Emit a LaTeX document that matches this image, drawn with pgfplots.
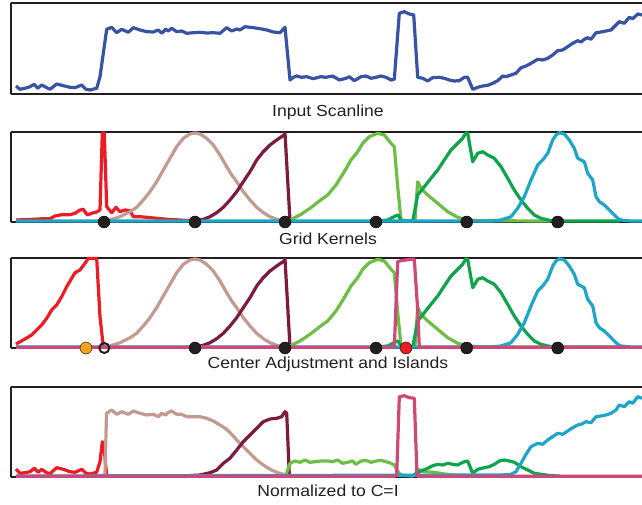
\documentclass[border=0pt]{standalone}
\usepackage{pgfplots}
\pgfplotsset{compat=1.18}
\usepackage{pgfplotstable}
\usepackage{fontspec}
\setmainfont{Liberation Sans}

\definecolor{scan}{HTML}{3953A4}
\definecolor{kred}{HTML}{ED1C24}
\definecolor{ktan}{HTML}{C49A90}
\definecolor{kmaroon}{HTML}{7D1A3F}
\definecolor{klgreen}{HTML}{6CBE45}
\definecolor{kdgreen}{HTML}{0FA34B}
\definecolor{kcyan}{HTML}{1EA6C8}
\definecolor{kpink}{HTML}{D0487A}
\definecolor{korange}{HTML}{F7A21B}
\definecolor{ink}{HTML}{231F20}

% x = pixel column, y = height above the panel floor
\pgfplotstableread{
x y
104 1
110 2
120 5.3
130 10.3
136.7 14.7
143.3 22
150 30.3
156.7 40.3
163.3 52
170 63.7
176.7 75.3
183.3 83.7
190 88
195 89
200 88
206.7 83.7
213.3 77
220 67
226.7 55.3
231.7 47
236.7 40.3
243.3 30.3
250 22
256.7 14.7
263.3 9.3
270 5.3
276.7 2.7
283.3 1.3
290 1
}\tantab

\pgfplotstableread{
x y
195 1
203.3 2.7
210 5.3
216.7 9.3
223.3 14.7
230 22
236.7 30.3
243.3 40.3
250 50.3
256.7 62
263.3 70.3
270 77
276.7 82
284 87
285 89
290 1
}\maroontab

\pgfplotstableread{
x y
285 1
290 2
300 7
310 13.7
320.7 22
327.7 27
336 37
344.3 50.3
351 62
357.7 70.3
362.7 78.7
369.3 85.3
377.7 88.7
384.3 87
391 78.7
394.3 75.3
397.7 35.3
401 2
412 1
415 2
417.7 40.3
421 33.7
427.7 27
437.7 18.7
447.7 10.3
457.7 4.7
467.7 2
480 1.3
550 1
}\lgreentab

\pgfplotstableread{
x y
376 1
387.7 2
396 6.3
398 7
400 3.7
401 1
412.7 1
417.7 27
424.3 35.3
431 43.7
437.7 52
444.3 62
451 72
457.7 78.7
462.7 83.7
466 89.3
467.7 88.7
472.7 60.3
477.7 68.7
482.7 70.3
487.7 67
494.3 63.7
501 55.3
507.7 43.7
514.3 32
521 22
527.7 13.7
534.3 7
541 3.7
551 1.3
557.7 1
620 1
}\dgreentab

\pgfplotstableread{
x y
16 1
491 1
501 2
511 5.3
517.7 13.7
524.3 25.3
531 42
537.7 57
542.7 62
547.7 68.7
552.7 82
556 87
559.3 89.3
564.3 88
569.3 82
574.3 73.7
577.7 63.7
581 62
584.3 60.3
587.7 48.7
592.7 42
596 25.3
599.3 20.3
604.3 17
611 10.3
617.7 3.7
621 2
631 1
642 1
}\cyantab

\pgfplotsset{
  panel/.style={
    width=631pt, height=90pt, scale only axis,
    xmin=11, xmax=642, ymin=0, ymax=90,
    xtick=\empty, ytick=\empty,
    axis x line*=box, axis y line*=left,
    axis line style={-, line width=1.3pt, draw=ink},
    clip=false,
  },
  ln/.style={line width=3.2pt, line join=round},
  dot/.style={only marks, mark=*, mark size=6pt, mark options={draw=none, fill=#1}},
}
\tikzset{captext/.style={anchor=base, text=ink, inner sep=0pt, font=\fontsize{16}{19}\selectfont, xscale=1.1, transform shape}}

\begin{document}
\begin{tikzpicture}
\useasboundingbox (0,0) rectangle (642pt,504pt);

% ---- Input Scanline
\begin{axis}[panel, ymax=91, height=91pt, at={(11pt,410pt)}, anchor=south west]
\addplot[ln, scan] coordinates {
(16,8) (20,4.7) (25,5.7) (30,7.3) (34.3,9.7) (37.7,5.7) (41.7,9) (46,6.7) (50,4.7)
(56.7,10) (63.3,8.3) (70,6.7) (75,6.3) (81.7,9) (86,4.7) (90,4) (96.7,5.7) (100,17.3)
(106.7,64.7) (111.7,66.7) (116.7,61.3) (121.7,64.7) (128.3,61.7) (133.3,66.3) (140,64)
(146.7,62.3) (153.3,62) (158.3,64) (161.7,60.7) (165.7,64.7) (168.3,63) (171.7,65.7)
(176.7,62.3) (181.7,63) (186.7,60.7) (193.3,61.3) (200,61.7) (206.7,61) (213.3,61.3)
(220,60.7) (226.7,66.3) (231.7,63) (236.7,65) (240,64) (245,67.3) (253.3,66.3) (260,65.3)
(266.7,64) (273.3,62) (280,61.3) (285,66.7) (290,14) (293.3,16.7) (296.7,18) (301.7,16.7)
(306.7,17.3) (313.3,15.3) (320.7,17.3) (326,16.7) (332.7,18) (339.3,14) (346,15.7)
(349.3,17.3) (354.3,13.3) (361,17.3) (366,18) (371,15.7) (376,16.7) (381,18) (386,16.7)
(391,14) (394.3,14.7) (399.3,80.7) (404.3,82.3) (409.3,80) (413.7,79) (417.7,16.7)
(422.7,15.7) (427.7,13) (432.7,16.3) (439.3,16.7) (444.3,15.7) (449.3,14) (454.3,13)
(459.3,13.3) (464.3,16.7) (467.7,16.7) (472.7,4.7) (477.7,6.7) (482.7,8) (487.7,8.7)
(492.7,10.7) (497.7,13.3) (502.7,18) (506,17.3) (511,19) (516,20.7) (521,26.3) (526,28)
(531,30.7) (537.7,34.7) (542.7,34) (547.7,35.7) (552.7,39) (557.7,43.3) (562.7,44)
(567.7,47.3) (572.7,50.7) (577.7,53.3) (581,52) (584.3,54.7) (587.7,56.3) (591,54.7)
(596,61.3) (601,62) (606,63) (611,64) (614.3,67.3) (619.3,72.3) (624.3,70.7) (629.3,76.7)
(632.7,75.3) (637.7,80) (642,79)
};
\end{axis}
\node[captext] at (328pt,387.5pt) {Input Scanline};

% ---- Grid Kernels
\begin{axis}[panel, at={(11pt,282pt)}, anchor=south west]
\addplot[ln, kred] coordinates {
(16,2) (33.3,2.7) (43.3,3.3) (50,3.3) (55,6) (61.7,7.3) (70,7.3) (75,8.7) (80,12) (83.3,12.7)
(87.3,7) (91.7,8.7) (96.7,10) (100,12) (102.3,89) (104.3,89) (106.7,15.3) (111.7,9.3)
(116,14.7) (120,10.3) (125,12) (130,11.3) (133.3,5.3) (140,5.3) (146.7,4.7) (156.7,3.7)
(166.7,2.7) (180,2) (195,1)
};
\addplot[ln, ktan] table {\tantab};
\addplot[ln, kmaroon] table {\maroontab};
\addplot[ln, klgreen] table {\lgreentab};
\addplot[ln, kdgreen] table {\dgreentab};
\addplot[ln, kcyan] table {\cyantab};
\addplot[dot=ink] coordinates {(104,0) (195,0) (285,0) (376,0) (466.7,0) (557.7,0)};
\end{axis}
\node[captext] at (328pt,260pt) {Grid Kernels};

% ---- Center Adjustment and Islands
\begin{axis}[panel, at={(11pt,156pt)}, anchor=south west]
\addplot[ln, kred] coordinates {
(16,4) (23.3,8) (31.7,13) (36.7,18) (41.7,23) (46.7,29.7) (51.7,38) (56.7,43) (61.7,51.3)
(66.7,61.3) (71.7,69.7) (75,75.3) (80,78) (85,84.7) (88.3,89.5) (96.7,89.5) (100,31.3) (103.3,1.3)
};
\addplot[ln, ktan] table {\tantab};
\addplot[ln, kmaroon] table {\maroontab};
\addplot[ln, klgreen] table {\lgreentab};
\addplot[ln, kdgreen] table {\dgreentab};
\addplot[ln, kcyan] table {\cyantab};
\addplot[ln, kpink] coordinates {
(16,0.7) (394.3,0.7) (397.7,86.3) (401,87.3) (406,88) (411,88.7) (414.3,88.7) (417.7,38) (419.3,0.7) (642,0.7)
};
\addplot[dot=ink] coordinates {(195,0) (285,0) (376,0) (466.7,0) (557.7,0)};
\addplot[dot=korange] coordinates {(86,0)};
\addplot[dot=kred] coordinates {(406,0)};
\addplot[only marks, mark=o, mark size=5pt, mark options={draw=ink, line width=2pt}] coordinates {(104.3,0)};
\end{axis}
\node[captext] at (328pt,135.3pt) {Center Adjustment and Islands};

% ---- Normalized to C=I
\begin{axis}[panel, at={(11pt,27pt)}, anchor=south west]
\addplot[ln, kred] coordinates {
(16,8) (20,3.7) (25,4.3) (30,5.3) (34.3,8.7) (38.3,4.7) (41.7,7.7) (46.7,4.3) (50,3.3) (56.7,9.3)
(63.3,7.7) (70,5.3) (75,4.7) (81.7,7.7) (86,3.7) (90,3) (96.7,4.7) (100,15.3) (102.3,35.3)
(104,30) (106.7,1.7) (108,1)
};
\addplot[ln, ktan] coordinates {
(104,1) (105,3.7) (106.5,63.7) (111.7,67) (116.7,62.7) (121.7,65.3) (128.3,62.7) (133.3,66)
(140,63.7) (146.7,62) (153.3,62.7) (158.3,60.3) (161.7,63.7) (165.7,62) (168.3,64.7) (171.7,66)
(176.7,62.7) (181.7,62.7) (186.7,60.3) (193.3,60.3) (200,60.3) (206.7,58.7) (213.3,56) (220,52)
(226.7,47.7) (231.7,42.7) (236.7,37) (243.3,30.3) (250,23.7) (256.7,17) (263.3,12) (270,7.7)
(276.7,4.7) (283.3,2.7) (288.3,1.3) (295,1)
};
\addplot[ln, kmaroon] coordinates {
(186.7,1.3) (200,2) (210,4.3) (216.7,7) (223.3,13.7) (230,18.7) (236.7,27) (243.3,35.3) (250,42)
(256.7,48.7) (263.3,55.3) (270,58) (276.7,58.7) (281.7,60.3) (285,65.3) (286.7,63.7) (289.3,2) (293,1)
};
\addplot[ln, klgreen] coordinates {
(286,2) (290,13.7) (295,16) (300,14.7) (305,17) (310,14.7) (315,15.3) (320.7,16) (327.7,16)
(332.7,15.3) (337.7,17) (342.7,13.7) (347.7,14.7) (352.7,16) (356,12.7) (361,16) (366,16.7)
(371,14.7) (376,16) (381,16.7) (386,15.3) (391,13.7) (394.3,12) (397.7,5.3) (401,2) (412,1)
(415,2) (417.7,7.7) (424.3,5.3) (434.3,4.7) (444.3,3) (454.3,2) (467.7,1.3) (487.7,1.3)
};
\addplot[ln, kdgreen] coordinates {
(412,1) (416,3) (421,6) (427.7,8.7) (432.7,11.3) (437.7,12.7) (442.7,12) (447.7,13.7) (452.7,12.7)
(457.7,12) (462.7,14.7) (467.7,16) (472.7,3.7) (477.7,7.7) (484.3,9.3) (489.3,10.3) (494.3,12.7)
(499.3,16) (504.3,17) (509.3,16) (514.3,14.7) (521,10.3) (527.7,7) (534.3,3.7) (541,2.7)
(551,1.3) (560,1)
};
\addplot[ln, kcyan] coordinates {
(16,1) (501,2) (511,2.7) (516,5.3) (521,13.7) (526,22.7) (531,30.3) (537.7,33.7) (542.7,32.7)
(547.7,37) (552.7,40.3) (557.7,43.7) (562.7,42.7) (567.7,46) (572.7,49.3) (577.7,52) (581,52.7)
(586,55.3) (591,54.3) (596,60.3) (601,61) (606,62) (611,63.7) (616,67) (619.3,72) (624.3,70.3)
(629.3,75.3) (632.7,73.7) (637.7,80.3) (642,78.7)
};
\addplot[ln, kpink] coordinates {
(16,0.7) (394.3,0.7) (396.7,2) (399.3,80.3) (404.3,81.3) (409.3,79.3) (414.3,78.7) (417,2) (418,0.7) (642,0.7)
};
\end{axis}
\node[captext] at (328pt,7.3pt) {Normalized to C=I};
\end{tikzpicture}
\end{document}
